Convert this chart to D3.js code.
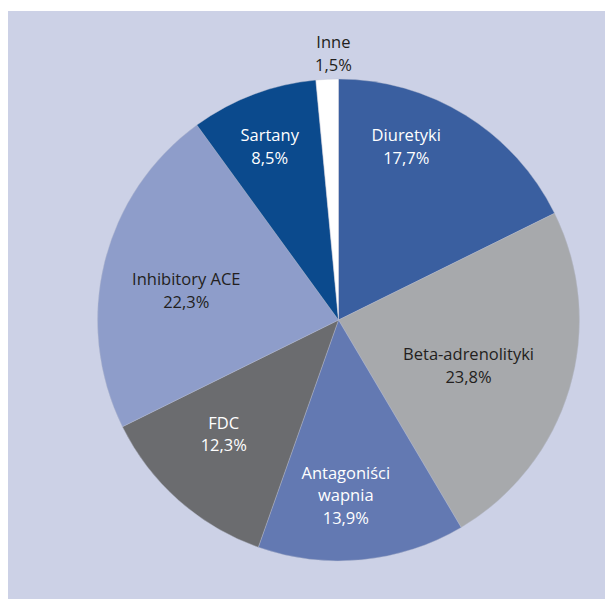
<!DOCTYPE html>
<html>
<head>
<meta charset="utf-8">
<script src="https://cdn.jsdelivr.net/npm/d3@7"></script>
<style>
  html, body { margin: 0; padding: 0; background: #fff; }
  svg { display: block; }
</style>
</head>
<body>
<div id="chart"></div>
<script>
// Data
const categories = ["Diuretyki", "Beta-adrenolityki", "Antagoniści wapnia", "FDC", "Inhibitory ACE", "Sartany", "Inne"];
const shares = [17.7, 23.8, 13.9, 12.3, 22.3, 8.5, 1.5];
const valueLabels = ["17,7%", "23,8%", "13,9%", "12,3%", "22,3%", "8,5%", "1,5%"];

// Dimensions
const width = 605;
const height = 599;
const cx = 338.5;
const cy = 320;
const radius = 241;

const colors = ["#3a5fa0", "#a7a9ac", "#6379b2", "#6b6c6f", "#8e9dca", "#0b4a8d", "#ffffff"];
const textColors = ["#fff", "#231f20", "#fff", "#fff", "#231f20", "#fff", "#231f20"];

// label placement: radius from centre and angle nudge (degrees)
const labelLayout = {
  "Diuretyki": {r: 186, da: -10.5},
  "Beta-adrenolityki": {r: 138, da: 3},
  "Antagoniści wapnia": {r: 176, da: 3.2},
  "FDC": {r: 162, da: 3.5},
  "Inhibitory ACE": {r: 155, da: -3},
  "Sartany": {r: 186, da: -1},
  "Inne": {r: 266, da: 1.6}
};

const data = categories.map((c, i) => ({name: c, value: shares[i], label: valueLabels[i], i}));

const svg = d3.select("#chart")
  .append("svg")
    .attr("width", width)
    .attr("height", height)
    .attr("viewBox", [0, 0, width, height]);

// panel background
svg.append("rect")
  .attr("x", 8)
  .attr("y", 11)
  .attr("width", width - 8)
  .attr("height", height - 11)
  .attr("fill", "#ccd1e6");

const pie = d3.pie()
  .value(d => d.value)
  .sort(null)
  .startAngle(0)
  .endAngle(2 * Math.PI);

const arc = d3.arc()
  .innerRadius(0)
  .outerRadius(radius);

const arcs = pie(data);

const g = svg.append("g")
  .attr("transform", `translate(${cx},${cy})`);

g.selectAll("path")
  .data(arcs)
  .join("path")
    .attr("d", arc)
    .attr("fill", d => colors[d.data.i])
    .attr("stroke", "#b9bdd0")
    .attr("stroke-width", 0.4);

// labels
const lines = d => {
  const parts = d.data.name === "Antagoniści wapnia" ? ["Antagoniści", "wapnia"] : [d.data.name];
  return parts.concat([d.data.label]);
};

const lineH = 22.7;

const labels = g.selectAll("text.lbl")
  .data(arcs)
  .join("text")
    .attr("class", "lbl")
    .attr("text-anchor", "middle")
    .attr("font-family", "'Open Sans', sans-serif")
    .attr("font-size", 16.5)
    .attr("fill", d => textColors[d.data.i])
    .attr("transform", d => {
      const L = labelLayout[d.data.name];
      const a = (d.startAngle + d.endAngle) / 2 + L.da * Math.PI / 180;
      return `translate(${L.r * Math.sin(a)},${-L.r * Math.cos(a)})`;
    });

labels.each(function(d) {
  const ls = lines(d);
  const off = -(ls.length - 1) / 2 * lineH + 5.5;
  d3.select(this).selectAll("tspan")
    .data(ls)
    .join("tspan")
      .attr("x", 0)
      .attr("y", (t, k) => off + k * lineH)
      .text(t => t);
});
</script>
</body>
</html>
